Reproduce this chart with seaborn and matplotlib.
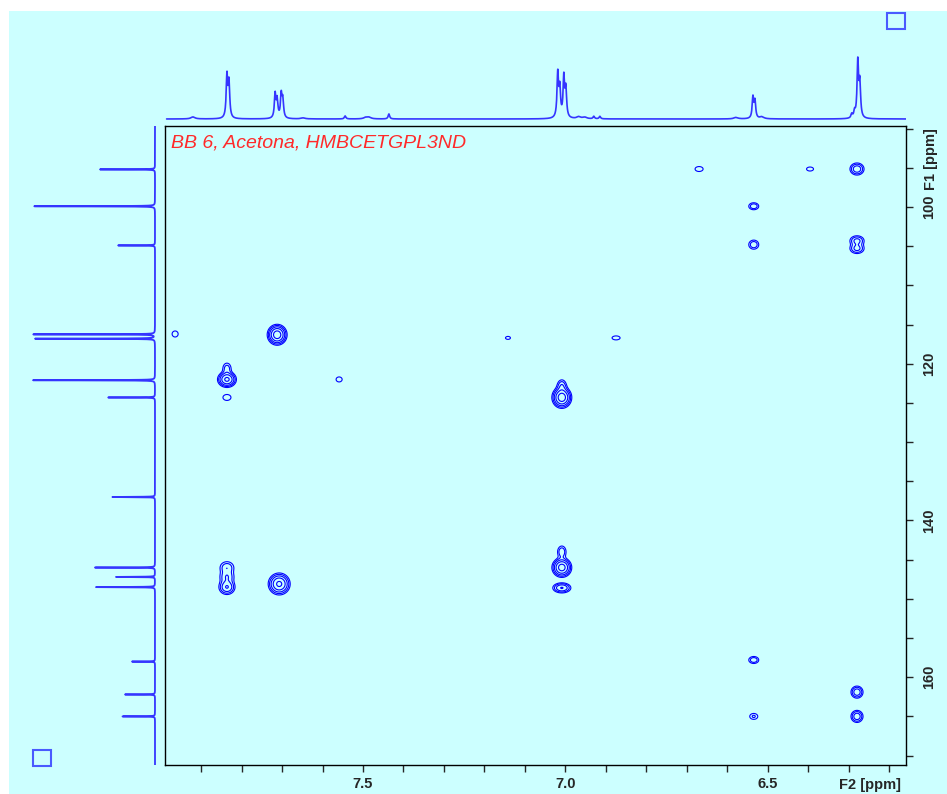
import numpy as np
import matplotlib
matplotlib.use("Agg")
import matplotlib.pyplot as plt
from matplotlib.patches import Rectangle
from matplotlib.transforms import blended_transform_factory
import seaborn as sns

sns.set_style("white")
plt.rcParams["font.family"] = ["Liberation Sans", "DejaVu Sans"]

# ====== Data ======
# HMBC cross peaks: F2 (1H) ppm, F1 (13C) ppm, intensity, line widths (ppm)
cp_h = [6.670, 6.396, 6.280, 6.535, 6.535, 6.280, 6.280, 7.964, 7.712, 7.142,
        6.875, 7.836, 7.836, 7.836, 7.559, 7.009, 7.009, 7.836, 7.836, 7.836,
        7.707, 7.009, 7.009, 7.009, 6.535, 6.280, 6.535, 6.280]
cp_c = [95.15, 95.15, 95.15, 99.9, 104.8, 104.3, 105.3, 116.2, 116.3, 116.7,
        116.7, 122.0, 120.6, 124.3, 122.0, 124.3, 122.8, 146.0, 147.2, 148.5,
        148.1, 146.0, 144.0, 148.6, 157.8, 161.9, 165.0, 165.0]
cp_amp = [1.5, 1.4, 5, 3, 3, 4, 4, 1.3, 15, 1.15,
          1.3, 12, 2.5, 1.6, 1.3, 15, 3, 3, 3, 6,
          12, 14, 3, 6, 3, 5, 2, 5]
cp_wh = [.011, .0105, .0097, .0083, .0083, .0104, .0104, .0103, .0106, .0116,
         .0137, .0105, .0073, .0102, .0103, .0106, .0072, .0112, .0112, .0105,
         .0122, .0107, .0070, .0118, .0083, .0083, .0084, .0083]
cp_wc = [.35, .31, .43, .30, .39, .38, .38, .53, .575, .36,
         .35, .46, .50, .39, .44, .60, .50, .5, .5, .5,
         .63, .55, .50, .34, .30, .43, .32, .43]

# 1H projection (top)
h_ppm = [7.920, 7.836, 7.831, 7.717, 7.712, 7.702, 7.698, 7.648, 7.544, 7.493,
         7.485, 7.436, 7.019, 7.014, 7.004, 6.999, 6.967, 6.952, 6.930, 6.915,
         6.579, 6.537, 6.532, 6.515, 6.293, 6.286, 6.278, 6.273]
h_int = [2, 42, 35, 24, 18, 23, 18, 1, 3, 1.5,
         1.5, 5, 44, 28, 40, 28, 2, 1.5, 2.5, 2.5,
         1.5, 21, 17, 2, 4, 6, 56, 34]

# 13C projection (left)
c_ppm = [95.2, 99.9, 104.9, 116.25, 116.8, 122.1, 124.3, 137.0, 146.0, 147.2,
         148.5, 158.0, 162.2, 165.0]
c_int = [55, 121, 37, 122, 120, 122, 47, 43, 61, 39, 59, 23, 30, 33]

levels = [1.0, 1.8, 3.2, 5.8, 10.5, 19.0]
x_lim = (7.989, 6.159)
y_lim = (171.2, 89.66)

bg = "#ccffff"
proj_col = "#3535ff"
lab_fs = 10.5

# ====== Figure ======
W, H = 947, 794
fig = plt.figure(figsize=(W / 100, H / 100), dpi=100)
fig.patch.set_facecolor("white")
fig.add_artist(Rectangle((9 / W, 0), 1, 1 - 11 / H, transform=fig.transFigure,
                         fc=bg, ec="none", zorder=-5))

def fx(px):
    return px / W

def fy(py):
    return 1 - py / H

ax = fig.add_axes([fx(165), fy(765), (906 - 165) / W, (765 - 126) / H])
ax_top = fig.add_axes([fx(165), fy(121), (906 - 165) / W, 71 / H])
ax_left = fig.add_axes([fx(30), fy(765), 126 / W, (765 - 126) / H])

# ====== Contours ======
gx = np.linspace(x_lim[1], x_lim[0], 1500)
gy = np.linspace(y_lim[1], y_lim[0], 1200)
XX, YY = np.meshgrid(gx, gy)
Z = np.zeros_like(XX)
for h, c, a, wh, wc in zip(cp_h, cp_c, cp_amp, cp_wh, cp_wc):
    Z += a * np.exp(-0.5 * (((XX - h) / wh) ** 2 + ((YY - c) / wc) ** 2))

ax.set_facecolor(bg)
ax.contour(XX, YY, Z, levels=levels, colors="#0000ff", linewidths=0.8)
ax.set_xlim(*x_lim)
ax.set_ylim(*y_lim)

for s in ax.spines.values():
    s.set_color("black")
    s.set_linewidth(1.0)

xt = np.round(np.arange(6.2, 7.95, 0.1), 1)
ax.set_xticks(xt)
ax.set_xticklabels([f"{v:.1f}" if abs(v * 2 - round(v * 2)) < 1e-6 else "" for v in xt],
                   fontweight="bold", fontsize=lab_fs)
yt = np.arange(90, 171, 5)
ax.yaxis.tick_right()
ax.set_yticks(yt)
ax.set_yticklabels([str(v) if v % 20 == 0 else "" for v in yt],
                   rotation=90, va="center", fontweight="bold", fontsize=lab_fs)
ax.tick_params(axis="x", direction="out", length=5, width=1, pad=4, bottom=True)
ax.tick_params(axis="y", direction="out", length=5, width=1, pad=6.5, right=True, left=False)

tr_x = blended_transform_factory(ax.transData, ax.transAxes)
ax.text(6.248, -0.0205, "F2 [ppm]", transform=tr_x, ha="center", va="top",
        fontweight="bold", fontsize=lab_fs)
tr_y = blended_transform_factory(ax.transAxes, ax.transData)
ax.text(1.0337, 93.9, "F1 [ppm]", transform=tr_y, ha="center", va="center",
        rotation=90, fontweight="bold", fontsize=lab_fs)

ax.text(0.008, 0.974, "BB 6, Acetona, HMBCETGPL3ND", transform=ax.transAxes,
        ha="left", va="center", color="#ff2a2a", fontstyle="italic", fontsize=14)

# ====== Projections ======
hx = np.linspace(x_lim[1], 7.985, 6000)
hy = np.zeros_like(hx)
for p, i in zip(h_ppm, h_int):
    hw = 0.006 if i <= 2 else 0.0022
    hy += i * hw ** 2 / ((hx - p) ** 2 + hw ** 2)
sns.lineplot(x=hx, y=hy, ax=ax_top, color=proj_col, linewidth=1.2,
             estimator=None, sort=False)
ax_top.set_xlim(*x_lim)
ax_top.set_ylim(-2, 69)
ax_top.axis("off")

cy = np.linspace(y_lim[1], y_lim[0], 16000)
cx = np.zeros_like(cy)
for p, i in zip(c_ppm, c_int):
    cx += i * 0.02 ** 2 / ((cy - p) ** 2 + 0.02 ** 2)
sns.lineplot(x=cx, y=cy, ax=ax_left, color=proj_col, linewidth=1.3,
             estimator=None, sort=False, orient="y")
ax_left.set_xlim(125, -1)
ax_left.set_ylim(*y_lim)
ax_left.axis("off")

# UI corner boxes
for (x0, y0) in [(887, 29), (33, 766)]:
    fig.add_artist(Rectangle((fx(x0), fy(y0)), 18 / W, 16 / H, transform=fig.transFigure,
                             fill=False, ec="#4a5aff", lw=1.5))

fig.savefig("out.png", dpi=100, facecolor=fig.get_facecolor())
